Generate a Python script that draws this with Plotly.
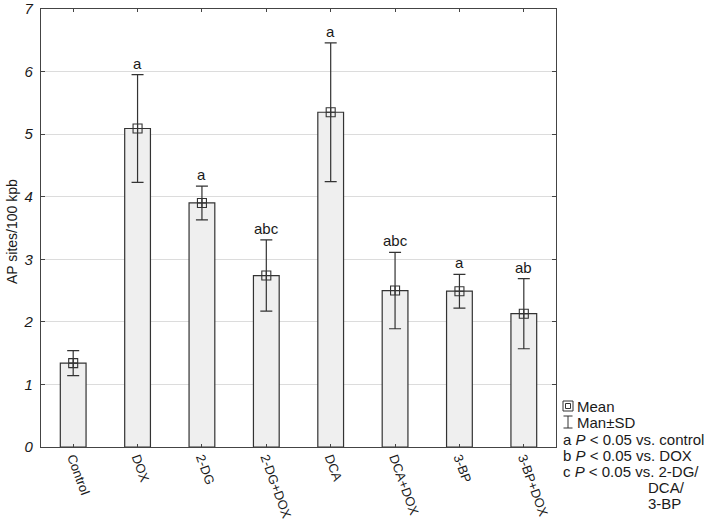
import plotly.graph_objects as go

categories = ["Control", "DOX", "2-DG", "2-DG+DOX", "DCA", "DCA+DOX", "3-BP", "3-BP+DOX"]
means = [1.34, 5.09, 3.90, 2.74, 5.35, 2.50, 2.49, 2.13]
sds = [0.20, 0.86, 0.27, 0.57, 1.11, 0.61, 0.27, 0.56]
letters = ["", "a", "a", "abc", "a", "abc", "a", "ab"]
y_ticks = [0, 1, 2, 3, 4, 5, 6, 7]
legend_lines = [
    "a <i>P</i> < 0.05 vs. control",
    "b <i>P</i> < 0.05 vs. DOX",
    "c <i>P</i> < 0.05 vs. 2-DG/",
]
legend_cont = ["DCA/", "3-BP"]

W, H = 709, 526
L, R, T, B = 41, 153, 9, 79
pw, ph = W - L - R, H - T - B

def px(x):
    return (x - L) / pw

def py(y):
    return (H - B - y) / ph

FONT = "Liberation Sans, Arial, sans-serif"
DARK = "#333333"
TXT = "#1a1a1a"

fig = go.Figure()
fig.add_trace(go.Bar(
    x=categories, y=means, width=0.4,
    marker=dict(color="#efefef", line=dict(color=DARK, width=1.2)),
    showlegend=False, hoverinfo="skip",
))
fig.add_trace(go.Scatter(
    x=categories, y=means, mode="markers",
    marker=dict(symbol="square-cross-open", size=9, color=DARK, line=dict(width=1.1, color=DARK)),
    error_y=dict(type="data", array=sds, visible=True, color=DARK, thickness=1.2, width=6),
    showlegend=False,
))

for c, m, s, t in zip(categories, means, sds, letters):
    if t:
        fig.add_annotation(x=c, y=m + s, text=t, showarrow=False, yanchor="bottom",
                           yshift=1, font=dict(size=15, color=TXT, family=FONT))

# Y title
fig.add_annotation(x=px(12), y=py(232), xref="paper", yref="paper", text="AP sites/100 kpb",
                   textangle=-90, showarrow=False, xanchor="center", yanchor="middle",
                   font=dict(size=14, color=TXT, family=FONT))

# Legend text
fig.add_annotation(x=px(575), y=py(406), xref="paper", yref="paper", text="Mean", showarrow=False,
                   xanchor="left", yanchor="middle", font=dict(size=15, color=TXT, family=FONT))
fig.add_annotation(x=px(575), y=py(422), xref="paper", yref="paper", text="Man±SD", showarrow=False,
                   xanchor="left", yanchor="middle", font=dict(size=15, color=TXT, family=FONT))
for i, t in enumerate(legend_lines):
    fig.add_annotation(x=px(561), y=py(439 + 16 * i), xref="paper", yref="paper", text=t,
                       showarrow=False, xanchor="left", yanchor="middle",
                       font=dict(size=15, color=TXT, family=FONT))
for i, t in enumerate(legend_cont):
    fig.add_annotation(x=px(646), y=py(487 + 16 * i), xref="paper", yref="paper", text=t,
                       showarrow=False, xanchor="left", yanchor="middle",
                       font=dict(size=15, color=TXT, family=FONT))

# Legend icons
shapes = [
    dict(type="rect", xref="paper", yref="paper", x0=px(563), x1=px(573), y0=py(411), y1=py(401),
         line=dict(color=DARK, width=1)),
    dict(type="rect", xref="paper", yref="paper", x0=px(565.5), x1=px(570.5), y0=py(408.5), y1=py(403.5),
         line=dict(color=DARK, width=1)),
    dict(type="line", xref="paper", yref="paper", x0=px(568), x1=px(568), y0=py(416), y1=py(428),
         line=dict(color=DARK, width=1)),
    dict(type="line", xref="paper", yref="paper", x0=px(563.5), x1=px(572.5), y0=py(416), y1=py(416),
         line=dict(color=DARK, width=1)),
    dict(type="line", xref="paper", yref="paper", x0=px(563.5), x1=px(572.5), y0=py(428), y1=py(428),
         line=dict(color=DARK, width=1)),
]

fig.update_layout(
    width=W, height=H,
    margin=dict(l=L, r=R, t=T, b=B, autoexpand=False),
    paper_bgcolor="white", plot_bgcolor="white",
    font=dict(family=FONT, color=TXT),
    shapes=shapes,
)
fig.update_xaxes(
    type="category", range=[-0.5, 7.5], showgrid=False,
    showline=True, linecolor="#444", linewidth=1.3, mirror="ticks",
    ticks="inside", ticklen=3, tickcolor="#444", tickangle=70,
    tickfont=dict(size=13, color=TXT, family=FONT),
    ticklabelstandoff=-3,
    automargin=False,
)
fig.update_yaxes(
    range=[0, 7], tickvals=y_ticks, showgrid=True, gridcolor="#dcdcdc", gridwidth=1,
    showline=True, linecolor="#444", linewidth=1.3, mirror="ticks",
    ticks="inside", ticklen=4, tickcolor="#444", zeroline=False,
    tickfont=dict(size=15, color=TXT, family=FONT, style="italic"),
    ticklabelstandoff=4,
    automargin=False,
)

fig.write_html("out.html", config={"displayModeBar": False},
               post_script="document.body.style.margin='0';document.body.style.overflow='hidden';")
